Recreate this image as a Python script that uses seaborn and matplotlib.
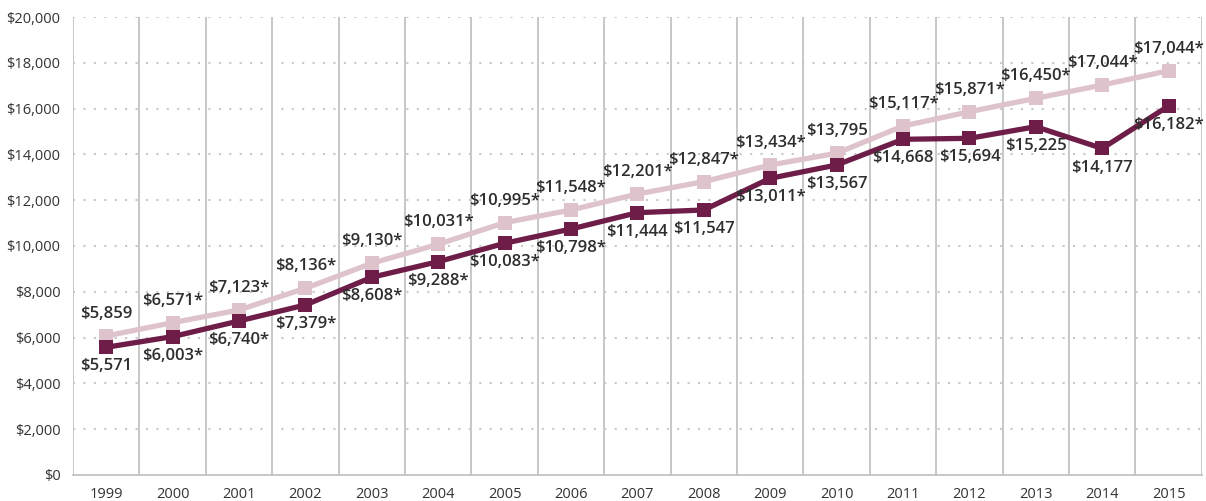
import matplotlib
matplotlib.use("Agg")
import matplotlib.pyplot as plt
import pandas as pd
import seaborn as sns

years = list(range(1999, 2016))

# values (marker positions)
light_vals = [6070, 6650, 7205, 8153, 9245, 10074, 11018, 11572, 12271, 12809,
              13537, 14048, 15240, 15865, 16450, 17030, 17655]
dark_vals = [5576, 6041, 6725, 7424, 8633, 9315, 10118, 10742, 11455, 11572,
             12956, 13537, 14659, 14703, 15210, 14262, 16114]

# text labels as printed on the chart
light_labels = ["$5,859", "$6,571*", "$7,123*", "$8,136*", "$9,130*", "$10,031*",
                "$10,995*", "$11,548*", "$12,201*", "$12,847*", "$13,434*", "$13,795",
                "$15,117*", "$15,871*", "$16,450*", "$17,044*", "$17,044*"]
dark_labels = ["$5,571", "$6,003*", "$6,740*", "$7,379*", "$8,608*", "$9,288*",
               "$10,083*", "$10,798*", "$11,444", "$11,547", "$13,011*", "$13,567",
               "$14,668", "$15,694", "$15,225", "$14,177", "$16,182*"]

light_color = "#dec3cc"
dark_color = "#6e1c48"

sns.set_style("white")
plt.rcParams["font.family"] = ["Open Sans", "DejaVu Sans"]

df = pd.DataFrame({
    "year": years * 2,
    "value": light_vals + dark_vals,
    "series": ["light"] * len(years) + ["dark"] * len(years),
})

fig = plt.figure(figsize=(12.06, 5.01), dpi=100)
ax = fig.add_axes([0.0605, 0.052, 0.936, 0.914])

# grid: vertical solid lines between years, dotted horizontals
for b in range(1999, 2017):
    ax.axvline(b - 0.5, color="#bdbdbd", lw=1.2, zorder=0)
for v in range(2000, 20001, 2000):
    ax.axhline(v, color="#c8c8c8", lw=1.5, linestyle=(0, (1, 4)), zorder=0)

sns.lineplot(data=df, x="year", y="value", hue="series",
             palette={"light": light_color, "dark": dark_color},
             hue_order=["light", "dark"], marker="s", markersize=10,
             markeredgewidth=0, linewidth=3.8, legend=False, ax=ax)

for x, v, t in zip(years, light_vals, light_labels):
    ax.annotate(t, (x, v), xytext=(0, 10), textcoords="offset points",
                ha="center", va="bottom", fontsize=12, fontweight="semibold",
                color="#2e2e2e")
for x, v, t in zip(years, dark_vals, dark_labels):
    ax.annotate(t, (x, v), xytext=(0, -8), textcoords="offset points",
                ha="center", va="top", fontsize=12, fontweight="semibold",
                color="#2e2e2e")

ax.set_xlim(1998.5, 2015.5)
ax.set_ylim(0, 20000)
ax.set_xticks(years)
ax.set_xticklabels([str(y) for y in years])
ax.set_yticks(range(0, 20001, 2000))
ax.set_yticklabels([f"${v:,}" for v in range(0, 20001, 2000)])
ax.tick_params(axis="both", length=0, labelsize=10.5, colors="#333333")
ax.tick_params(axis="x", pad=9)
ax.tick_params(axis="y", pad=9)
ax.set_xlabel("")
ax.set_ylabel("")
for s in ["top", "right"]:
    ax.spines[s].set_visible(False)
ax.spines["left"].set_visible(False)
ax.spines["bottom"].set_color("#bdbdbd")
ax.spines["bottom"].set_linewidth(1.2)

fig.savefig("out.png", dpi=100)
